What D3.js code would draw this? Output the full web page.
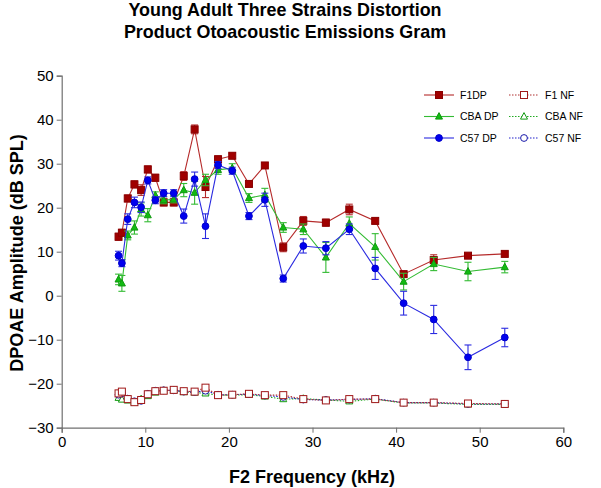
<!DOCTYPE html>
<html><head><meta charset="utf-8">
<script src="https://cdn.jsdelivr.net/npm/d3@7"></script>
<style>body{margin:0;background:#fff;} svg{display:block;}</style>
</head><body>
<svg id="c" width="601" height="488"></svg>
<script>
const freqs = [6.8, 7.2, 7.9, 8.7, 9.5, 10.3, 11.2, 12.2, 13.4, 14.6, 15.9, 17.2, 18.7, 20.4, 22.4, 24.3, 26.5, 28.9, 31.6, 34.4, 37.5, 40.9, 44.5, 48.6, 53.0];
const f1dp  = [13.4, 14.3, 22.1, 25.3, 24.0, 28.7, 26.8, 21.2, 21.2, 27.2, 37.8, 24.7, 31.0, 31.8, 25.4, 29.6, 11.0, 17.0, 16.6, 19.6, 17.0, 4.9, 8.1, 9.1, 9.5];
const f1dpErr = [0.8, 0.8, 0.8, 0.8, 1.2, 0.8, 0.8, 0.8, 0.8, 1.0, 1.0, 2.4, 0.8, 0.6, 0.6, 0.6, 1.0, 1.0, 0.8, 1.2, 0.6, 0.6, 1.2, 0.5, 0.5];
const cbadp = [3.7, 2.8, 13.7, 15.5, 19.6, 18.3, 22.8, 21.7, 21.9, 24.0, 23.4, 26.3, 28.6, 29.0, 22.2, 22.9, 15.5, 15.1, 8.7, 16.4, 11.1, 3.2, 7.2, 5.5, 6.5];
const cbadpErr = [1.2, 1.8, 1.0, 1.5, 1.5, 1.5, 0.8, 0.8, 0.8, 1.5, 2.6, 1.3, 1.0, 1.0, 1.0, 1.5, 1.1, 1.2, 3.4, 1.5, 3.0, 1.9, 1.5, 2.1, 1.3];
const c57dp = [9.1, 7.4, 17.4, 21.2, 20.1, 26.2, 21.7, 23.3, 23.3, 18.1, 26.5, 15.8, 29.7, 28.4, 18.1, 21.8, 3.9, 11.3, 10.8, 15.1, 6.2, -1.7, -5.4, -14.0, -9.5];
const c57dpErr = [1.0, 0.8, 1.2, 1.2, 1.2, 0.8, 0.8, 0.8, 0.8, 1.6, 1.6, 2.8, 0.8, 0.8, 0.8, 1.5, 0.8, 1.6, 1.5, 1.2, 2.5, 2.7, 3.2, 2.8, 2.1];
const f1nf  = [-22.2, -21.8, -23.5, -24.2, -23.7, -22.4, -21.7, -21.6, -21.4, -21.7, -21.8, -20.9, -22.6, -22.5, -22.3, -22.6, -22.6, -23.5, -23.8, -23.5, -23.5, -24.3, -24.3, -24.5, -24.6];
const cbanf = [-23.2, -23.6, -23.8, -24.2, -23.5, -22.8, -22.0, -21.6, -21.5, -21.9, -22.0, -22.2, -22.6, -22.6, -22.5, -22.9, -23.5, -23.4, -23.7, -24.0, -23.5, -24.4, -24.4, -24.7, -24.7];
const c57nf = [-22.5, -22.2, -23.4, -24.0, -23.9, -22.3, -21.6, -21.5, -21.5, -21.8, -21.9, -21.6, -22.5, -22.5, -22.4, -22.7, -23.0, -23.6, -23.7, -23.6, -23.4, -24.3, -24.3, -24.6, -24.6];
const xTicks = [0, 10, 20, 30, 40, 50, 60];
const yTicks = [-30, -20, -10, 0, 10, 20, 30, 40, 50];
const titleLines = ["Young Adult Three Strains Distortion", "Product Otoacoustic Emissions Gram"];
const xLabel = "F2 Frequency (kHz)";
const yLabel = "DPOAE Amplitude (dB SPL)";

const svg = d3.select("#c");
const x = d3.scaleLinear().domain([0, 60]).range([61.7, 563.3]);
const y = d3.scaleLinear().domain([-30, 50]).range([427.7, 75.7]);
const FONT = "Liberation Sans, Arial, sans-serif";

const series = [
  {name:"F1DP", vals:f1dp, err:f1dpErr, line:"#b52a2a", fill:"#a00000", stroke:"#8a0000", shape:"square", dash:null, hollow:false},
  {name:"CBA DP", vals:cbadp, err:cbadpErr, line:"#33bb33", fill:"#11bb11", stroke:"#119911", shape:"triangle", dash:null, hollow:false},
  {name:"C57 DP", vals:c57dp, err:c57dpErr, line:"#2a2ae0", fill:"#0000ee", stroke:"#0000cc", shape:"circle", dash:null, hollow:false},
  {name:"CBA NF", vals:cbanf, err:null, line:"#22aa22", fill:"#ffffff", stroke:"#119911", shape:"triangle", dash:"1.5,1.5", hollow:true},
  {name:"C57 NF", vals:c57nf, err:null, line:"#2222cc", fill:"#ffffff", stroke:"#1a1aaa", shape:"circle", dash:"1.5,1.5", hollow:true},
  {name:"F1 NF", vals:f1nf, err:null, line:"#b03030", fill:"#ffffff", stroke:"#a01818", shape:"square", dash:"1.5,1.5", hollow:true}
];

function marker(g, shape, cx, cy) {
  if (shape === "square") {
    const sz = 7;
    return g.append("rect").attr("x", cx - sz/2).attr("y", cy - sz/2).attr("width", sz).attr("height", sz);
  } else if (shape === "circle") {
    return g.append("circle").attr("cx", cx).attr("cy", cy).attr("r", 3.4);
  } else {
    const h = 6.5, w = 7;
    return g.append("path").attr("d", `M${cx},${cy - h*0.6}L${cx + w/2},${cy + h*0.4}L${cx - w/2},${cy + h*0.4}Z`);
  }
}

// axes
const gx = svg.append("g").attr("transform", `translate(0,${y(-30)})`)
  .call(d3.axisBottom(x).tickValues(xTicks).tickSize(5).tickPadding(4).tickFormat(d3.format("d")));
const gy = svg.append("g").attr("transform", `translate(${x(0)},0)`)
  .call(d3.axisLeft(y).tickValues(yTicks).tickSize(5).tickPadding(3).tickFormat(d3.format("d")));
[gx, gy].forEach(g => {
  g.select(".domain").attr("stroke", "#707070").attr("stroke-width", 1.2);
  g.selectAll(".tick line").attr("stroke", "#707070");
  g.selectAll(".tick text").attr("font-family", FONT).attr("font-size", 15).attr("fill", "#000");
});

// series
const line = d3.line().x(d => x(d[0])).y(d => y(d[1]));
series.forEach(s => {
  const g = svg.append("g");
  const pts = freqs.map((f, i) => [f, s.vals[i]]);
  g.append("path").datum(pts).attr("d", line).attr("fill", "none")
    .attr("stroke", s.line).attr("stroke-width", 1.1)
    .attr("stroke-dasharray", s.dash);
  if (s.err) {
    pts.forEach((p, i) => {
      const e = s.err[i], cx = x(p[0]);
      const y1 = y(p[1] + e), y2 = y(p[1] - e);
      g.append("line").attr("x1", cx).attr("x2", cx).attr("y1", y1).attr("y2", y2).attr("stroke", s.line).attr("stroke-width", 1.1);
      [y1, y2].forEach(yy => g.append("line").attr("x1", cx - 3.5).attr("x2", cx + 3.5).attr("y1", yy).attr("y2", yy).attr("stroke", s.line).attr("stroke-width", 1.1));
    });
  }
  pts.forEach(p => {
    marker(g, s.shape, x(p[0]), y(p[1])).attr("fill", s.fill).attr("stroke", s.stroke).attr("stroke-width", 1);
  });
});

// legend
const legendItems = [
  ["F1DP", 0, 0], ["F1 NF", 5, 1], ["CBA DP", 1, 0], ["CBA NF", 3, 1], ["C57 DP", 2, 0], ["C57 NF", 4, 1]
];
legendItems.forEach((it, k) => {
  const s = series[it[1]];
  const row = Math.floor(k / 2), col = it[2];
  const x0 = col === 0 ? 424 : 509, ly = 95 + row * 21.5;
  const g = svg.append("g");
  g.append("line").attr("x1", x0).attr("x2", x0 + 30).attr("y1", ly).attr("y2", ly)
    .attr("stroke", s.line).attr("stroke-width", 1.1).attr("stroke-dasharray", s.dash);
  marker(g, s.shape, x0 + 15, ly).attr("fill", s.fill).attr("stroke", s.stroke).attr("stroke-width", 1);
  g.append("text").attr("x", x0 + 36).attr("y", ly + 3.8).attr("font-family", FONT).attr("font-size", 10.5)
    .attr("fill", "#000").text(it[0]);
});

// titles
svg.append("text").attr("x", 285).attr("text-anchor", "middle").attr("font-family", FONT)
  .attr("font-weight", "bold").attr("font-size", 17.9)
  .selectAll("tspan").data(titleLines).join("tspan")
  .attr("x", 285).attr("y", (d, i) => 16 + i * 22).text(d => d);
svg.append("text").attr("x", 312).attr("y", 483).attr("text-anchor", "middle").attr("font-family", FONT)
  .attr("font-weight", "bold").attr("font-size", 18).text(xLabel);
svg.append("text").attr("transform", "translate(23,253) rotate(-90)").attr("text-anchor", "middle")
  .attr("font-family", FONT).attr("font-weight", "bold").attr("font-size", 18).text(yLabel);
</script>
</body></html>
